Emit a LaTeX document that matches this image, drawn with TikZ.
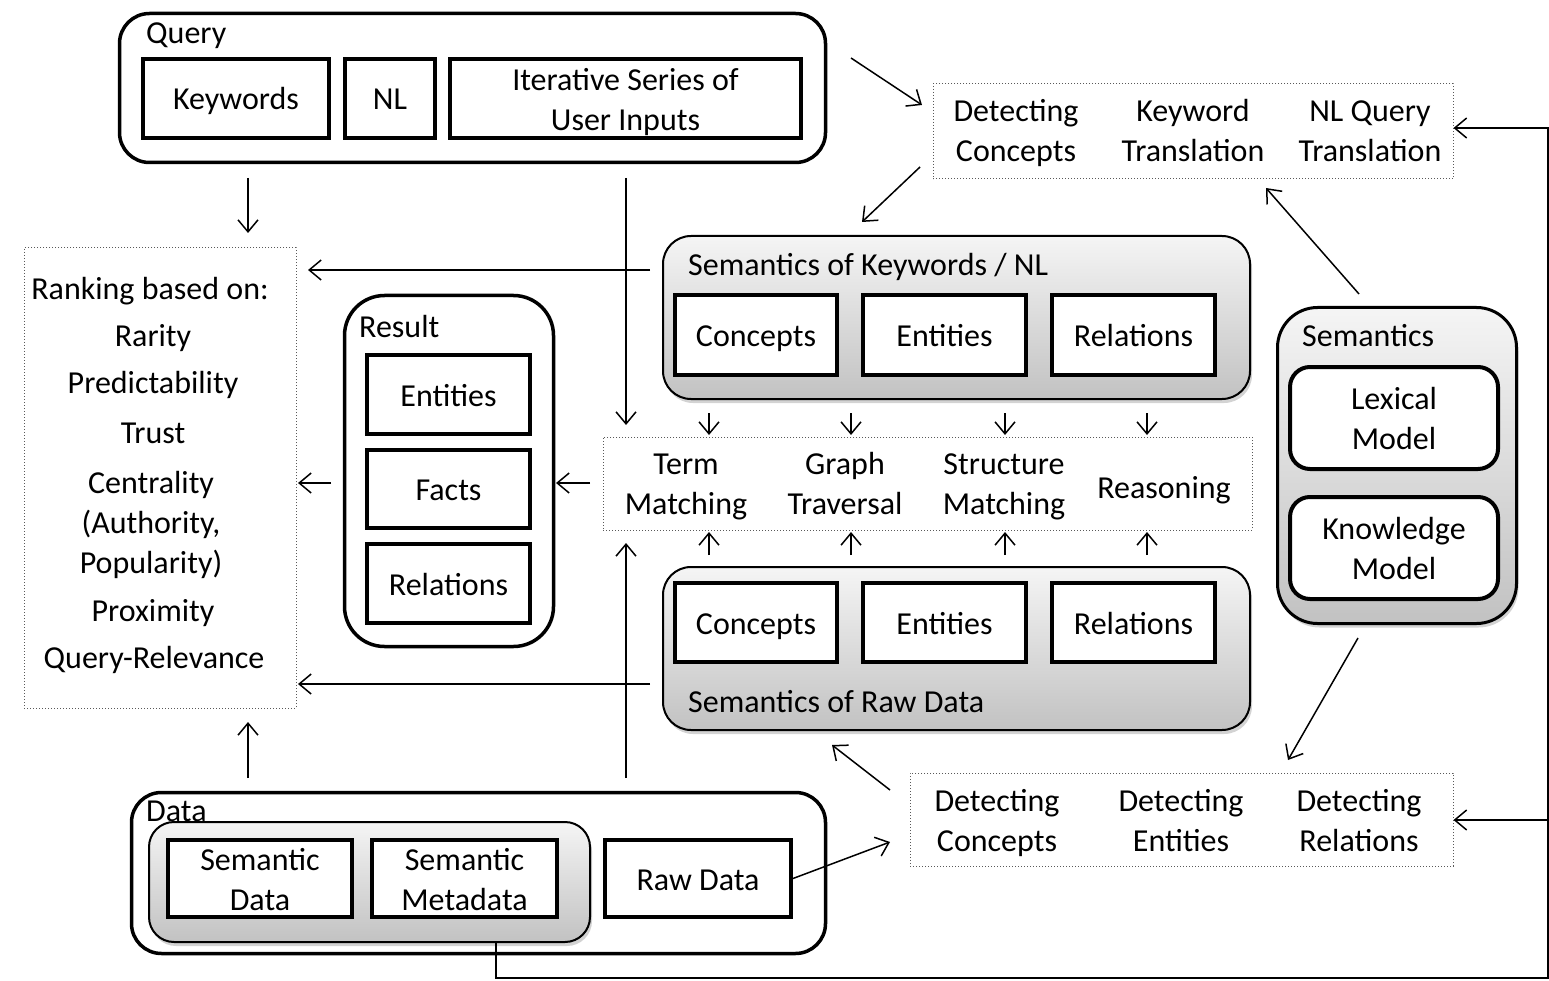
\documentclass[tikz,border=0pt]{standalone}
\usepackage{fontspec}
\setmainfont{Carlito}
\usetikzlibrary{arrows.meta,shadows}
\newcommand{\mystrut}{\rule[-8.5pt]{0pt}{40pt}}
\begin{document}
\begin{tikzpicture}[x=1pt,y=-1pt,
 every node/.style={font=\fontsize{32}{40}\selectfont, inner sep=0pt, execute at begin node=\mystrut, execute at end node=\mystrut},
 sq/.style={draw, line width=4pt, fill=white, align=center},
 outer/.style={draw, line width=3.5pt, rounded corners=30pt, fill=white},
 shbox/.style={draw, line width=2pt, rounded corners=28pt, top color=gray!8, bottom color=gray!48, drop shadow={opacity=0.35, shadow xshift=2pt, shadow yshift=-4pt}},
 rbox/.style={draw, line width=4pt, rounded corners=20pt, fill=white, align=center},
 dotbox/.style={draw=gray!70!black, dotted, line width=1pt},
 txt/.style={align=center},
 two/.style={yshift=-5pt},
 lbl/.style={anchor=west},
 arr/.style={line width=1.5pt, -{Straight Barb[length=12pt,width=20pt,line width=1.5pt]}},
 plain/.style={line width=1.5pt}]
\useasboundingbox (0,0) rectangle (1549,981);

% Query
\node[outer, minimum width=706pt, minimum height=149pt] (qry) at (472.5,88) {};
\node[lbl] (qlbl) at (146,32) {Query};
\node[sq, minimum width=186pt, minimum height=79pt] (kw) at (236,98.5) {Keywords};
\node[sq, minimum width=90pt, minimum height=79pt] (nl) at (390,98.5) {NL};
\node[sq, minimum width=351pt, minimum height=79pt] (iter) at (625.5,98.5) {};
\node[txt, two] (itertxt) at (iter) {Iterative Series of\\User Inputs};

% top detection box
\node[dotbox, minimum width=520pt, minimum height=95pt] (tdet) at (1193,131.5) {};
\node[txt, two] (tdc) at (1016,130) {Detecting\\Concepts};
\node[txt, two] (tkt) at (1193,130) {Keyword\\Translation};
\node[txt, two] (tnt) at (1370,130) {NL Query\\Translation};

% ranking
\node[dotbox, minimum width=272pt, minimum height=460pt] (rk) at (160,478) {};
\node (r1) at (150,288) {Ranking based on:};
\node (r2) at (153,335) {Rarity};
\node (r3) at (153,382) {Predictability};
\node (r4) at (153,432) {Trust};
\node (r5) at (151,482) {Centrality};
\node (r6) at (151,522) {(Authority,};
\node (r7) at (151,562) {Popularity)};
\node (r8) at (153,610) {Proximity};
\node (r9) at (154,657) {Query-Relevance};

% result
\node[outer, rounded corners=40pt, minimum width=209pt, minimum height=351pt] (res) at (449,471) {};
\node[lbl] (reslbl) at (359,326) {Result};
\node[sq, minimum width=163pt, minimum height=79pt] (rent) at (448.5,394.5) {Entities};
\node[sq, minimum width=163pt, minimum height=78pt] (rfac) at (448.5,489) {Facts};
\node[sq, minimum width=163pt, minimum height=79pt] (rrel) at (448.5,583.5) {Relations};

% semantics of keywords
\node[shbox, minimum width=587pt, minimum height=163pt] (skw) at (956.5,317.5) {};
\node[lbl] (skwlbl) at (688,264) {Semantics of Keywords / NL};
\node[sq, minimum width=162pt, minimum height=80pt] (kcon) at (756,335) {Concepts};
\node[sq, minimum width=163pt, minimum height=80pt] (kent) at (944.5,335) {Entities};
\node[sq, minimum width=163pt, minimum height=80pt] (krel) at (1133.5,335) {Relations};

% matching
\node[dotbox, minimum width=649pt, minimum height=93pt] (mt) at (927.5,483.5) {};
\node[txt, two] (mterm) at (686,483) {Term\\Matching};
\node[txt, two] (mgraph) at (845,483) {Graph\\Traversal};
\node[txt, two] (mstruct) at (1004,483) {Structure\\Matching};
\node[txt] (mreas) at (1164,487) {Reasoning};

% semantics of raw data
\node[shbox, minimum width=587pt, minimum height=163pt] (sraw) at (956.5,648.5) {};
\node[lbl] (srawlbl) at (688,701) {Semantics of Raw Data};
\node[sq, minimum width=162pt, minimum height=79pt] (dcon) at (756,622.5) {Concepts};
\node[sq, minimum width=163pt, minimum height=79pt] (dent) at (944.5,622.5) {Entities};
\node[sq, minimum width=163pt, minimum height=79pt] (drel) at (1133.5,622.5) {Relations};

% semantics
\node[shbox, line width=3pt, rounded corners=40pt, minimum width=239pt, minimum height=316pt] (sem) at (1397,465.5) {};
\node[lbl] (semlbl) at (1302,335) {Semantics};
\node[rbox, minimum width=208pt, minimum height=102pt] (lex) at (1394,418) {};
\node[txt, two] (lextxt) at (lex) {Lexical\\Model};
\node[rbox, minimum width=208pt, minimum height=102pt] (kno) at (1394,548) {};
\node[txt, two] (knotxt) at (kno) {Knowledge\\Model};

% bottom detection box
\node[dotbox, minimum width=543pt, minimum height=93pt] (bdet) at (1181.5,819.5) {};
\node[txt, two] (bdc) at (997,820) {Detecting\\Concepts};
\node[txt, two] (bde) at (1181,820) {Detecting\\Entities};
\node[txt, two] (bdr) at (1359,820) {Detecting\\Relations};

% data
\node[outer, minimum width=694pt, minimum height=161pt] (data) at (478.5,873) {};
\node[lbl] (datalbl) at (146,810) {Data};
\node[shbox, rounded corners=25pt, minimum width=441pt, minimum height=120pt] (sdbox) at (369.5,882) {};
\node[sq, minimum width=184pt, minimum height=77pt] (sdat) at (260,878.5) {};
\node[txt, two] (sdattxt) at (sdat) {Semantic\\Data};
\node[sq, minimum width=185pt, minimum height=77pt] (smeta) at (464.5,878.5) {};
\node[txt, two] (smetatxt) at (smeta) {Semantic\\Metadata};
\node[sq, minimum width=186pt, minimum height=77pt] (raw) at (698,878.5) {Raw Data};

% connectors
\draw[arr] (248,178) -- (248,233);
\draw[arr] (626,178) -- (626,425);
\draw[arr] (851,58) -- (922,105);
\draw[arr] (920,167) -- (862,222);
\draw[arr] (1359,294) -- (1266,188);
\draw[arr] (650,270) -- (308,270);
\draw[arr] (331,483) -- (298,483);
\draw[arr] (590,483) -- (556,483);
\draw[arr] (650,684) -- (298,684);
\draw[arr] (248,778) -- (248,722);
\draw[arr] (626,778) -- (626,543);
\foreach \x in {709,851,1005,1147} {
  \draw[arr] (\x,413) -- (\x,435);
  \draw[arr] (\x,555) -- (\x,532);
}
\draw[arr] (890,790) -- (832,745);
\draw[arr] (1358,638) -- (1288,760);
\draw[arr] (raw.east) -- (890,842);
\draw[arr] (496,943) -- (496,978) -- (1548,978) -- (1548,128) -- (tdet.east |- 0,128);
\draw[arr] (1548,820) -- (bdet.east |- 0,820);
\end{tikzpicture}
\end{document}
